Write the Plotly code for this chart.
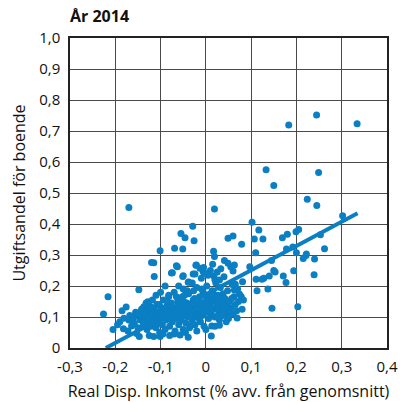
import plotly.graph_objects as go

# Scatter data
sparse_x = [0.183, 0.2445, 0.334, 0.133, 0.150, 0.249, 0.224, 0.245, 0.019, 0.302,
            0.102, 0.117, 0.049, 0.060, 0.079, 0.107, 0.126, 0.169, 0.180, 0.199,
            0.205, 0.253, 0.262, 0.017, 0.110, 0.200, 0.222, 0.178, 0.192, 0.019,
            0.041, 0.049, 0.055, 0.060, 0.063, 0.033, 0.018, 0.020, 0.030, 0.145,
            0.097, 0.150, 0.153, 0.140, 0.128, 0.124, 0.111, 0.081, 0.171, 0.194,
            0.177, 0.239, 0.240, 0.221, 0.215, 0.113, 0.137, 0.065, 0.063, 0.074,
            0.078, 0.083, 0.080, 0.069, 0.053, 0.146, 0.203, 0.012, 0.030, 0.013,
            -0.170, -0.226, -0.216, -0.176, -0.181, -0.160, -0.148, -0.147, -0.182, -0.172,
            -0.164, -0.153, -0.137, -0.134, -0.128, -0.122, -0.123, -0.115, -0.114, -0.101,
            -0.115, -0.101, -0.113, -0.113, -0.110, -0.082, -0.076, -0.069, -0.065, -0.055,
            -0.051, -0.046, -0.051, -0.029, -0.026, -0.038, -0.028, -0.022, -0.041, -0.039,
            -0.031, -0.057, -0.120, -0.063, -0.074, -0.050, -0.039, -0.021, -0.024, -0.013,
            -0.006]
sparse_y = [0.719, 0.752, 0.723, 0.575, 0.524, 0.566, 0.480, 0.460, 0.448, 0.427,
            0.406, 0.381, 0.354, 0.361, 0.335, 0.352, 0.352, 0.356, 0.367, 0.375,
            0.382, 0.365, 0.320, 0.312, 0.307, 0.307, 0.303, 0.319, 0.326, 0.295,
            0.282, 0.273, 0.262, 0.248, 0.268, 0.256, 0.232, 0.220, 0.219, 0.282,
            0.262, 0.250, 0.245, 0.232, 0.225, 0.222, 0.222, 0.214, 0.232, 0.249,
            0.211, 0.236, 0.287, 0.298, 0.289, 0.185, 0.190, 0.206, 0.187, 0.174,
            0.166, 0.155, 0.125, 0.097, 0.112, 0.128, 0.133, 0.039, 0.073, 0.071,
            0.453, 0.110, 0.165, 0.132, 0.096, 0.096, 0.188, 0.037, 0.062, 0.055,
            0.071, 0.047, 0.133, 0.112, 0.149, 0.123, 0.133, 0.275, 0.231, 0.314,
            0.037, 0.037, 0.120, 0.110, 0.095, 0.166, 0.242, 0.322, 0.265, 0.369,
            0.319, 0.356, 0.231, 0.393, 0.346, 0.213, 0.239, 0.267, 0.185, 0.035,
            0.074, 0.042, 0.276, 0.262, 0.243, 0.233, 0.212, 0.268, 0.239, 0.257,
            0.246]

dense_x = [-0.205, -0.195, -0.19, -0.185, -0.168, -0.158, -0.155, -0.150, -0.145, -0.142,
           -0.138, -0.135, -0.132, -0.130, -0.128, -0.126, -0.124, -0.122, -0.120, -0.118,
           -0.116, -0.114, -0.112, -0.110, -0.108, -0.106, -0.104, -0.102, -0.100, -0.098,
           -0.096, -0.094, -0.092, -0.090, -0.088, -0.086, -0.084, -0.082, -0.080, -0.078,
           -0.076, -0.074, -0.072, -0.070, -0.068, -0.066, -0.064, -0.062, -0.060, -0.058,
           -0.056, -0.054, -0.052, -0.050, -0.048, -0.046, -0.044, -0.042, -0.040, -0.038,
           -0.036, -0.034, -0.032, -0.030, -0.028, -0.026, -0.024, -0.022, -0.020, -0.018,
           -0.016, -0.014, -0.012, -0.010, -0.008, -0.006, -0.004, -0.002, 0.000, 0.002,
           0.004, 0.006, 0.008, 0.010, 0.012, 0.014, 0.016, 0.018, 0.020, 0.022,
           0.024, 0.026, 0.028, 0.030, 0.032, 0.034, 0.036, 0.038, 0.040, 0.042,
           0.044, 0.046, 0.048, 0.050, 0.052, 0.055, 0.058, 0.060, 0.062, 0.065,
           0.068, 0.070, 0.072,
           -0.110, -0.100, -0.090, -0.060, -0.050, -0.030, -0.010, 0.005, 0.010, -0.005,
           0.000, 0.015, 0.025, 0.040, -0.080, -0.070, -0.045, -0.020, 0.000, 0.020,
           0.045, -0.125, -0.095,
           -0.140, -0.133, -0.127, -0.119, -0.111, -0.103, -0.097, -0.091, -0.085, -0.079,
           -0.073, -0.067, -0.061, -0.055, -0.049, -0.043, -0.037, -0.031, -0.025, -0.019,
           -0.013, -0.007, -0.001, 0.005, 0.011, 0.017, 0.023, 0.029, 0.035, 0.041,
           -0.170, -0.162, -0.149, -0.107, -0.087, -0.071, -0.057, -0.035, -0.015, 0.003,
           0.009, 0.027, 0.037, 0.051, 0.057, -0.065, -0.047, -0.027, -0.009, 0.013]
dense_y = [0.060, 0.075, 0.085, 0.120, 0.105, 0.080, 0.115, 0.065, 0.090, 0.125,
           0.075, 0.095, 0.145, 0.060, 0.110, 0.085, 0.135, 0.100, 0.070, 0.155,
           0.090, 0.125, 0.105, 0.065, 0.140, 0.080, 0.115, 0.050, 0.095, 0.130,
           0.075, 0.155, 0.110, 0.060, 0.090, 0.135, 0.100, 0.170, 0.070, 0.120,
           0.145, 0.085, 0.105, 0.180, 0.055, 0.125, 0.095, 0.150, 0.075, 0.115,
           0.135, 0.090, 0.165, 0.060, 0.105, 0.125, 0.080, 0.145, 0.100, 0.175,
           0.065, 0.115, 0.130, 0.090, 0.155, 0.110, 0.075, 0.140, 0.195, 0.100,
           0.120, 0.165, 0.085, 0.135, 0.105, 0.180, 0.070, 0.150, 0.115, 0.200,
           0.130, 0.095, 0.165, 0.145, 0.110, 0.185, 0.125, 0.155, 0.100, 0.210,
           0.140, 0.170, 0.120, 0.090, 0.195, 0.150, 0.130, 0.175, 0.105, 0.160,
           0.140, 0.120, 0.185, 0.095, 0.150, 0.130, 0.205, 0.110, 0.165, 0.140,
           0.120, 0.190, 0.150,
           0.170, 0.180, 0.200, 0.200, 0.190, 0.210, 0.225, 0.235, 0.250, 0.260,
           0.240, 0.270, 0.245, 0.230, 0.040, 0.045, 0.050, 0.055, 0.060, 0.070,
           0.085, 0.040, 0.045,
           0.105, 0.120, 0.090, 0.130, 0.085, 0.140, 0.110, 0.125, 0.150, 0.095,
           0.130, 0.110, 0.140, 0.100, 0.150, 0.115, 0.140, 0.120, 0.160, 0.130,
           0.145, 0.120, 0.170, 0.150, 0.130, 0.175, 0.160, 0.140, 0.160, 0.135,
           0.090, 0.100, 0.110, 0.100, 0.115, 0.095, 0.125, 0.100, 0.095, 0.140,
           0.120, 0.105, 0.115, 0.120, 0.160, 0.165, 0.170, 0.185, 0.190, 0.175]

# Trend line endpoints
trend_x = [-0.221, 0.335]
trend_y = [0.0, 0.435]

x_ticks = [-0.3, -0.2, -0.1, 0.0, 0.1, 0.2, 0.3, 0.4]
x_labels = ["-0,3", "-0,2", "-0,1", "0", "0,1", "0,2", "0,3", "0,4"]
y_ticks = [0.0, 0.1, 0.2, 0.3, 0.4, 0.5, 0.6, 0.7, 0.8, 0.9, 1.0]
y_labels = ["0", "0,1", "0,2", "0,3", "0,4", "0,5", "0,6", "0,7", "0,8", "0,9", "1,0"]

color = "#0a7fc3"
fig = go.Figure()
fig.add_trace(go.Scatter(x=sparse_x + dense_x, y=sparse_y + dense_y, mode="markers",
                         marker=dict(size=7, color=color), showlegend=False,
                         cliponaxis=False))
fig.add_trace(go.Scatter(x=trend_x, y=trend_y, mode="lines",
                         line=dict(color=color, width=4), showlegend=False))

fnt = "Open Sans, Liberation Sans, sans-serif"
fig.update_layout(
    width=400, height=402,
    margin=dict(l=70, r=13, t=38, b=54),
    plot_bgcolor="white", paper_bgcolor="white",
    font=dict(family=fnt, size=15, color="#111"),
    title=dict(text="<b>År 2014</b>", x=0.175, xanchor="left", y=0.958, yanchor="middle",
               font=dict(size=16, color="#111")),
    xaxis=dict(range=[-0.3, 0.4], tickvals=x_ticks, ticktext=x_labels, automargin=False,
               showgrid=True, gridcolor="#4a4a4a", gridwidth=1.3,
               showline=True, linecolor="#222", linewidth=1.5, mirror=True,
               zeroline=False, ticks="", tickfont=dict(size=15), ticklabelstandoff=4,
               title=dict(text="Real Disp. Inkomst (% avv. från genomsnitt)",
                          font=dict(size=16), standoff=15)),
    yaxis=dict(range=[0, 1.0], tickvals=y_ticks, ticktext=y_labels, automargin=False,
               showgrid=True, gridcolor="#4a4a4a", gridwidth=1.3,
               showline=True, linecolor="#222", linewidth=1.5, mirror=True,
               zeroline=False, ticks="", tickfont=dict(size=15), ticklabelstandoff=5,
               title=dict(text="Utgiftsandel för boende", font=dict(size=16), standoff=10)),
)
fig.write_html("out.html")
